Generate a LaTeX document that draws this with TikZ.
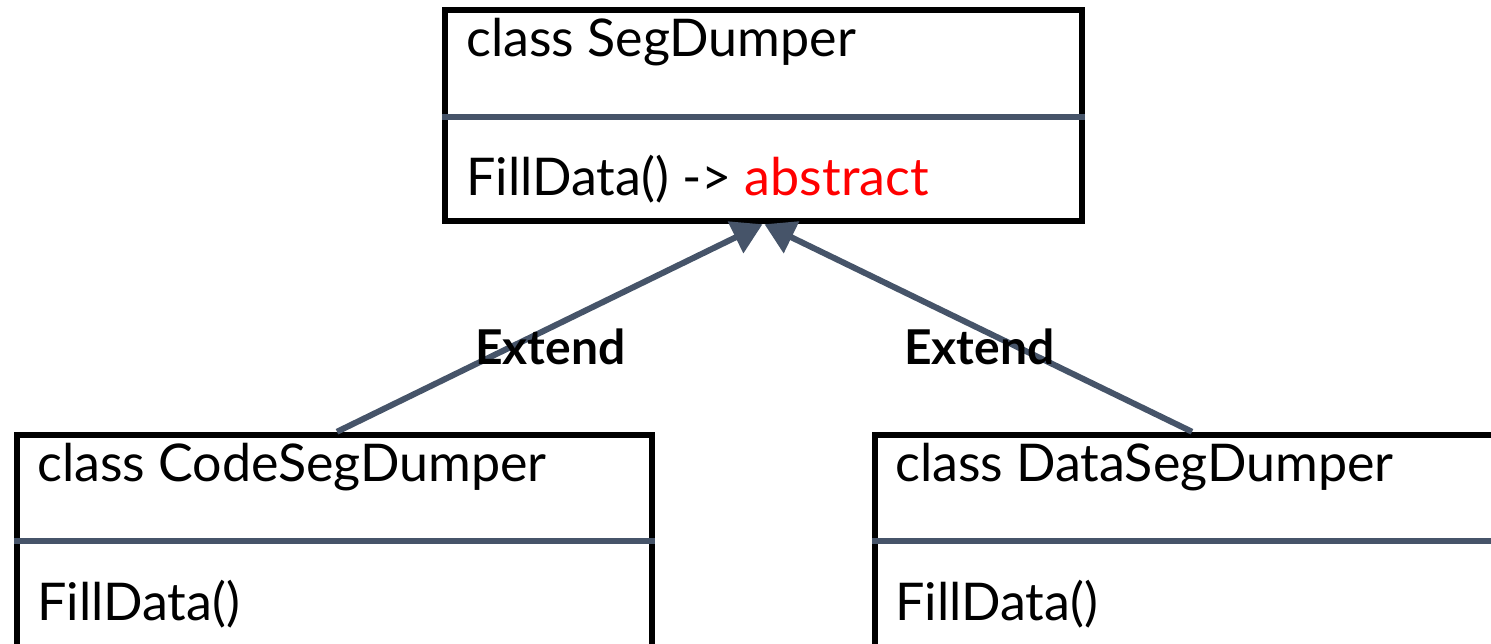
\documentclass[tikz,border=0pt]{standalone}
\usepackage{fontspec}
\setmainfont{Lato}
\usetikzlibrary{arrows.meta}
\definecolor{slate}{RGB}{70,84,105}
\definecolor{absred}{RGB}{255,0,0}
\tikzset{
  classbox/.style={draw=black, line width=6.5pt, fill=none, inner sep=0pt},
  divider/.style={draw=slate, line width=6pt},
  txt/.style={inner sep=0pt, anchor=base west, font=\fontsize{52}{60}\selectfont},
  extlabel/.style={inner sep=0pt, anchor=base west, font=\fontsize{48}{56}\selectfont\bfseries},
  inherit/.style={draw=slate, line width=6pt, -{Triangle[length=30pt,width=34pt]}}
}
\begin{document}
\begin{tikzpicture}[x=1pt,y=-1pt]
\useasboundingbox (0,0) rectangle (1491,644);
\clip (0,0) rectangle (1491,644);
% boxes
\node[classbox, minimum width=637pt, minimum height=211pt] (top) at (763.5,115.5) {};
\node[classbox, minimum width=635pt, minimum height=260pt] (cl) at (334.5,565) {};
\node[classbox, minimum width=640pt, minimum height=260pt] (cr) at (1195,565) {};
% dividers
\draw[divider] (top.west |- 0,117) -- (top.east |- 0,117);
\draw[divider] (cl.west |- 0,541) -- (cl.east |- 0,541);
\draw[divider] (cr.west |- 0,541) -- (cr.east |- 0,541);
% texts
\node[txt] (t1) at (466,57) {class SegDumper};
\node[txt] (t2) at (466,196) {FillData() -> \textcolor{absred}{abstract}};
\node[txt] (l1) at (37,481) {class CodeSegDumper};
\node[txt] (l2) at (37,620) {FillData()};
\node[txt] (r1) at (895,481) {class DataSegDumper};
\node[txt] (r2) at (895,620) {FillData()};
% connectors
\draw[inherit] ([xshift=2.5pt]cl.north) -- ([xshift=-1pt]top.south);
\draw[inherit] ([xshift=-3pt]cr.north) -- ([xshift=1pt]top.south);
% labels
\node[extlabel] (e1) at (475,364) {Extend};
\node[extlabel] (e2) at (904,364) {Extend};
\end{tikzpicture}
\end{document}
